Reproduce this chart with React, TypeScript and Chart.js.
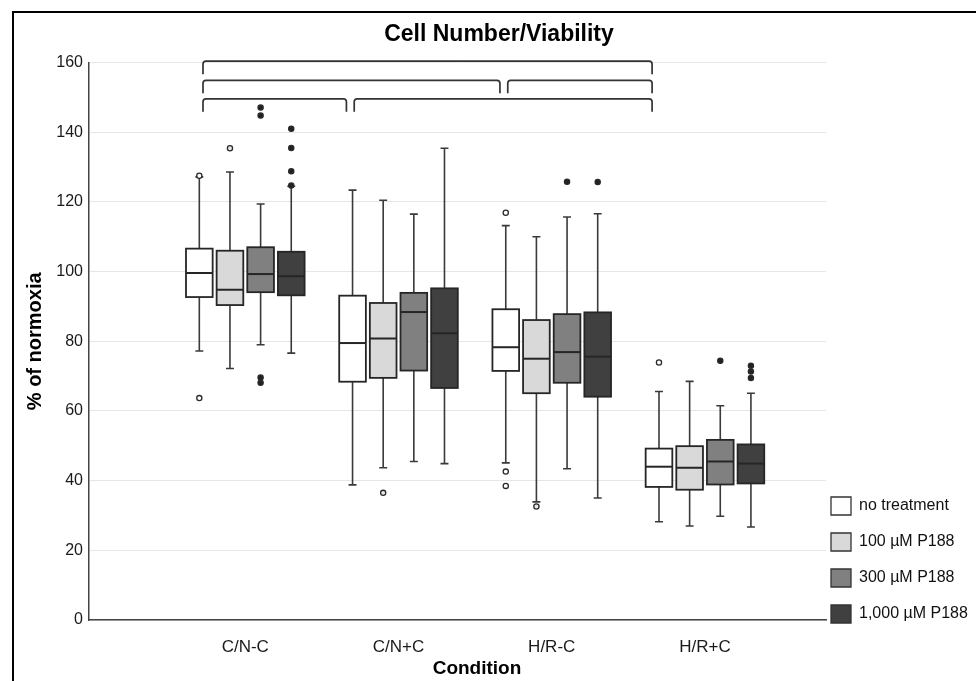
import React, { useEffect, useRef } from 'react';
import { Chart, registerables } from 'chart.js';

Chart.register(...registerables);

// ---------- data ----------
const categories = ['C/N-C', 'C/N+C', 'H/R-C', 'H/R+C'];
const treatments = ['no treatment', '100 µM P188', '300 µM P188', '1,000 µM P188'];
const yTickValues = [0, 20, 40, 60, 80, 100, 120, 140, 160];

// per condition: [lower whisker, Q1, median, Q3, upper whisker]
const noTreatmentBoxes = [
  [77.2, 92.7, 99.6, 106.6, 127.2],
  [38.8, 68.4, 79.5, 93.1, 123.4],
  [45.1, 71.5, 78.3, 89.2, 113.2],
  [28.2, 38.2, 44.0, 49.2, 65.6],
];
const p188_100Boxes = [
  [72.2, 90.4, 94.8, 106.0, 128.6],
  [43.7, 69.5, 80.8, 91.0, 120.5],
  [33.9, 65.1, 75.0, 86.1, 110.0],
  [27.0, 37.4, 43.7, 49.9, 68.5],
];
const p188_300Boxes = [
  [79.0, 94.1, 99.3, 107.0, 119.4],
  [45.5, 71.6, 88.4, 93.9, 116.5],
  [43.4, 68.1, 76.9, 87.8, 115.7],
  [29.8, 38.9, 45.5, 51.7, 61.5],
];
const p188_1000Boxes = [
  [76.6, 93.2, 98.7, 105.7, 124.5],
  [44.9, 66.6, 82.3, 95.2, 135.4],
  [35.0, 64.1, 75.6, 88.3, 116.6],
  [26.7, 39.2, 44.9, 50.4, 65.1],
];

// outliers: [condition index, value]
const noTreatmentOutliers = [[0, 127.5], [0, 63.7], [2, 116.9], [2, 42.6], [2, 38.5], [3, 73.9]];
const p188_100Outliers = [[0, 135.4], [1, 36.5], [2, 32.6]];
const p188_300Outliers = [[0, 147.1], [0, 144.8], [0, 69.6], [0, 68.1], [2, 125.8], [3, 74.4]];
const p188_1000Outliers = [[0, 141.0], [0, 135.5], [0, 128.8], [0, 124.7], [2, 125.7], [3, 73.0], [3, 71.3], [3, 69.5]];

// significance brackets (x in condition units, level in % of normoxia)
const bracketStarts = [-0.276, -0.276, 1.713, -0.276, 0.711];
const bracketEnds = [2.655, 1.662, 2.655, 0.66, 2.655];
const bracketLevels = [160.4, 154.9, 154.9, 149.6, 149.6];

// ---------- styling ----------
const FONT = "'Liberation Sans', Arial, Helvetica, sans-serif";
const fillColors = ['#ffffff', '#d9d9d9', '#808080', '#404040'];
const outlierFills = ['#ffffff', '#e8e8e8', '#222222', '#222222'];
const GROUP_OFFSETS = [-0.3, -0.1, 0.1, 0.3];
const BOX_WIDTH = 0.174;
const CAP_WIDTH = 0.052;

const boxSets = [noTreatmentBoxes, p188_100Boxes, p188_300Boxes, p188_1000Boxes];
const outlierSets = [noTreatmentOutliers, p188_100Outliers, p188_300Outliers, p188_1000Outliers];

const framePlugin = {
  id: 'frame',
  beforeDraw(chart: any) {
    const { ctx } = chart;
    ctx.save();
    ctx.fillStyle = '#000';
    ctx.fillRect(12, 11, chart.width - 12, 2);
    ctx.fillRect(12, 11, 2, chart.height - 11);
    ctx.restore();
  },
};

const boxPlugin = {
  id: 'boxes',
  beforeDatasetsDraw(chart: any) {
    const { ctx } = chart;
    const x = chart.scales.x;
    const y = chart.scales.y;
    const unit = x.getPixelForValue(1) - x.getPixelForValue(0);
    const halfW = (BOX_WIDTH * unit) / 2;
    const capHalf = (CAP_WIDTH * unit) / 2;
    boxSets.forEach((set, t) => {
      set.forEach((s, c) => {
        const cx = x.getPixelForValue(c + GROUP_OFFSETS[t]);
        const [mn, q1, md, q3, mx] = s.map((v) => y.getPixelForValue(v));
        ctx.save();
        ctx.strokeStyle = '#3a3a3a';
        ctx.lineWidth = 1.6;
        ctx.beginPath();
        ctx.moveTo(cx, mx);
        ctx.lineTo(cx, q3);
        ctx.moveTo(cx, q1);
        ctx.lineTo(cx, mn);
        ctx.moveTo(cx - capHalf, mx);
        ctx.lineTo(cx + capHalf, mx);
        ctx.moveTo(cx - capHalf, mn);
        ctx.lineTo(cx + capHalf, mn);
        ctx.stroke();
        ctx.fillStyle = fillColors[t];
        ctx.fillRect(cx - halfW, q3, 2 * halfW, q1 - q3);
        ctx.strokeStyle = '#262626';
        ctx.lineWidth = 1.8;
        ctx.strokeRect(cx - halfW, q3, 2 * halfW, q1 - q3);
        ctx.lineWidth = 2;
        ctx.beginPath();
        ctx.moveTo(cx - halfW, md);
        ctx.lineTo(cx + halfW, md);
        ctx.stroke();
        ctx.restore();
      });
    });
  },
  afterDatasetsDraw(chart: any) {
    const { ctx } = chart;
    const x = chart.scales.x;
    const y = chart.scales.y;
    const drop = 13;
    const r = 3;
    ctx.save();
    ctx.strokeStyle = '#333';
    ctx.lineWidth = 1.7;
    bracketLevels.forEach((lvl, i) => {
      const x1 = x.getPixelForValue(bracketStarts[i]);
      const x2 = x.getPixelForValue(bracketEnds[i]);
      const yl = y.getPixelForValue(lvl);
      ctx.beginPath();
      ctx.moveTo(x1, yl + drop);
      ctx.lineTo(x1, yl + r);
      ctx.arcTo(x1, yl, x1 + r, yl, r);
      ctx.lineTo(x2 - r, yl);
      ctx.arcTo(x2, yl, x2, yl + r, r);
      ctx.lineTo(x2, yl + drop);
      ctx.stroke();
    });
    ctx.restore();
  },
};

const xTitlePlugin = {
  id: 'xTitle',
  afterDraw(chart: any) {
    const { ctx } = chart;
    ctx.save();
    ctx.font = `bold 19px ${FONT}`;
    ctx.fillStyle = '#000';
    ctx.textAlign = 'center';
    ctx.textBaseline = 'middle';
    ctx.fillText('Condition', 477, 669);
    ctx.restore();
  },
};

export default function App() {
  const canvasRef = useRef<HTMLCanvasElement | null>(null);

  useEffect(() => {
    if (!canvasRef.current) return;
    Chart.defaults.font.family = FONT;
    const datasets = treatments.map((name, t) => ({
      label: name,
      data: outlierSets[t].map(([c, v]) => ({ x: c + GROUP_OFFSETS[t], y: v })),
      backgroundColor: fillColors[t],
      borderColor: '#333',
      pointBackgroundColor: outlierFills[t],
      pointBorderColor: '#2a2a2a',
      pointBorderWidth: 1.3,
      pointRadius: 2.6,
      showLine: false,
    }));

    const chart = new Chart(canvasRef.current, {
      type: 'scatter',
      data: { datasets },
      options: {
        animation: false,
        responsive: false,
        events: [],
        layout: { padding: { left: 22, right: 0, top: 12, bottom: 40 } },
        plugins: {
          title: {
            display: true,
            text: 'Cell Number/Viability',
            color: '#000',
            font: { size: 23, weight: 'bold', family: FONT, lineHeight: 1.2 },
            padding: { top: 9, bottom: 14 },
          },
          legend: {
            display: true,
            position: 'right',
            align: 'end',
            maxWidth: 150,
            labels: {
              boxWidth: 20,
              boxHeight: 18,
              padding: 5,
              color: '#111',
              font: { size: 16, family: FONT, lineHeight: 1.9375 },
              generateLabels: () =>
                treatments.map((name, i) => ({
                  text: [name] as any,
                  fillStyle: fillColors[i],
                  strokeStyle: '#333',
                  lineWidth: 1.3,
                  hidden: false,
                  datasetIndex: i,
                  fontColor: '#111',
                })),
            },
          },
          tooltip: { enabled: false },
        },
        scales: {
          x: {
            type: 'linear',
            min: -1.02,
            max: 3.79,
            afterBuildTicks: (scale: any) => {
              scale.ticks = categories.map((_, i) => ({ value: i }));
            },
            afterFit: (scale: any) => {
              scale.height = 21;
            },
            grid: { display: false, drawTicks: false },
            border: { display: true, color: '#444', width: 1.5 },
            ticks: {
              mirror: true,
              padding: -38,
              color: '#1a1a1a',
              font: { size: 17, family: FONT },
              maxRotation: 0,
              autoSkip: false,
              callback: (v: any) => categories[v] ?? '',
            },
          },
          y: {
            type: 'linear',
            min: 0,
            max: 160,
            afterBuildTicks: (scale: any) => {
              scale.ticks = yTickValues.map((v) => ({ value: v }));
            },
            afterFit: (scale: any) => {
              scale.width = 67;
            },
            grid: { color: '#e6e6e6', lineWidth: 1, drawTicks: false },
            border: { display: true, color: '#444', width: 1.5 },
            ticks: {
              padding: 6,
              color: '#1a1a1a',
              font: { size: 16, family: FONT },
            },
            title: {
              display: true,
              text: '% of normoxia',
              color: '#000',
              font: { size: 20, weight: 'bold', family: FONT, lineHeight: 1.2 },
              padding: { top: 1, bottom: 0 },
            },
          },
        },
      },
      plugins: [framePlugin, boxPlugin, xTitlePlugin],
    });
    return () => chart.destroy();
  }, []);

  return (
    <div style={{ position: 'absolute', left: 0, top: 0, width: 976, height: 681, background: '#fff' }}>
      <canvas ref={canvasRef} width={976} height={681} style={{ display: 'block' }} />
    </div>
  );
}
